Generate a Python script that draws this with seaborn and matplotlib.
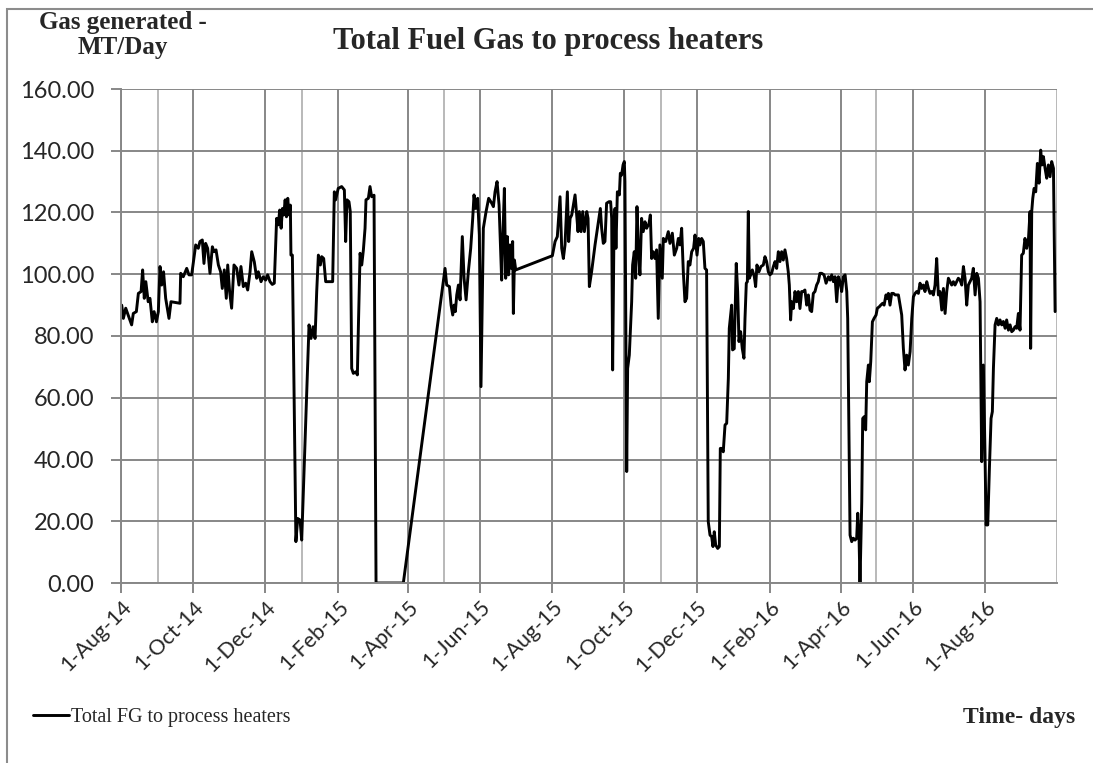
import pandas as pd
import matplotlib.pyplot as plt
import matplotlib.patches as patches
import seaborn as sns

# days counted from 1-Aug-14, split by period
day_a = [0.6, 2, 4, 6, 9, 10.4, 13, 14.7, 17, 18.3,
         19.7, 21, 23, 24.5, 26.5, 28, 30, 31.6, 33, 34.4,
         36, 37.8, 40.6, 42.3, 49.9, 50.5, 52.7, 55.6, 57.5, 59.8,
         63.2, 65.4, 66.8, 68.8, 70.2, 71.6, 73.3, 75.3, 77.3, 78.7,
         80.4, 82.4, 84.3, 85.7, 87.4, 89.1, 90.3, 91.9, 93.6, 95.6,
         97.9, 99.8, 101.5, 103.5, 105.5, 107.2, 109.2, 110.6, 112.8, 114.8,
         116.2, 118.5, 120.4, 122.4, 124.1, 126.1, 128, 129.7, 131.7, 133.1,
         134.3, 135.5, 136.6, 137.7, 138.9, 140, 141.1, 142.2, 143.3, 143.8,
         145, 148, 149.5, 151.5, 152.9, 159.1, 160.8, 162.5, 164.2,
         165.6, 167, 168.7, 169.8, 171.5, 173.2, 177.7, 179.1, 180.5, 181.6,
         183.8, 186.7, 189, 190.1, 191.2, 192.9, 194]
fg_a = [90, 85.7, 89, 86.8, 83.6, 87.3, 87.9, 93.8, 94.4, 101.4,
        92.2, 97.6, 91.1, 92.2, 84.6, 87.9, 84.6, 87.9, 102.5, 96.5,
        100.8, 92.2, 85.7, 91.1, 90.6, 100.3, 99.2, 101.9, 99.8, 99.8,
        109.5, 108.4, 110.6, 111.1, 103.5, 110, 108.4, 100.3, 108.9, 107.3,
        107.9, 103, 100.8, 95.4, 101.4, 92.2, 103, 94.4, 89, 103,
        101.9, 96.5, 102.5, 96, 97.1, 94.9, 100.8, 107.3, 104, 98.7,
        100.8, 97.6, 99.2, 98.1, 99.8, 97.6, 96.7, 97.1, 118.1, 116,
        120.8, 114.9, 121.3, 119.2, 124.1, 118.6, 124.6, 119.2, 122.4, 106.2,
        106.2, 13.4, 20.9, 20.4, 13.9, 83.6, 79.2, 83, 79.2,
        94.4, 106.2, 103, 105.7, 105.1, 97.6, 97.6, 97.6, 126.7, 124.1,
        127.8, 128.4, 127.3, 110.6, 124.1, 123.5, 120.3]

day_b = [195.2, 196.6, 198.6, 200, 200.9, 202.3, 203.7, 205.1, 206.5, 207.3,
         209.3, 210.7, 212.1, 214.1, 215.8, 238.9, 274.2, 275.6, 277.9, 279.3,
         280.7, 281.8, 282.9, 284.1, 285.5, 286.9, 288.8, 290.3, 292, 293.9,
         295.9, 297.6, 298.7, 300.1, 301.8, 303.2, 304.6, 306.6, 308.9, 311.1,
         313.7, 315.1, 316.5, 318.2, 319.9, 322.1, 323, 324.4, 325.5, 326.9,
         328, 329.2, 330.3, 331.4, 332, 332.9, 334, 365, 367.3, 369.2,
         371.5, 372.9, 374.3, 375.7, 377.7, 378.8, 380, 381.4, 382.8, 384.2,
         385.6, 386.7, 387.8, 389.3, 390.7, 392.1, 394.1, 395.2]
fg_b = [69.5, 67.9, 68.4, 67.4, 83.6, 106.8, 103, 107.9, 114.9, 124.1,
        124.6, 128.4, 125.1, 125.6, 0, 0, 101.9, 96.5, 96, 90,
        86.8, 90, 87.9, 93.3, 96.5, 91.7, 112.2, 98.7, 91.7, 100.8,
        108.4, 118.1, 125.7, 121.3, 124.6, 112.7, 63.6, 114.9, 120.3, 124.6,
        123, 121.9, 126.7, 130, 122.4, 98.1, 110.6, 127.8, 98.7, 112.2,
        99.8, 109.5, 101.9, 110.6, 87.3, 104.6, 101.4, 106, 110.6, 112.2,
        125.1, 108.4, 105.1, 109.5, 126.7, 110.6, 118.1, 119.2, 122.4, 125.7,
        119.2, 113.8, 120.3, 113.8, 120.3, 113.8, 120.3, 118.1]

day_c = [396.3, 398.2, 401.1, 403.9, 405.6, 406.7, 408.1, 409.5, 410.9, 412.9,
         414.3, 415.2, 416, 417.1, 418, 418.8, 420, 421.7, 422.5, 423.6,
         424.8, 425.9, 426.4, 427, 427.9, 428.7, 430.1, 432.1, 432.9, 434.3,
         435.5, 436.6, 437.7, 439.1, 440.5, 441.9, 443.4, 444.8, 446.8, 447.9,
         449, 450.4, 451.8, 453.2, 454.6, 456, 458, 458.9, 460.9, 463.1,
         464.5, 466.5, 468.2, 470.2, 471.6, 473, 474.4, 475.8, 477.2, 478.6,
         480, 481.4, 482.9, 484.5, 485.7, 487.4, 488.8, 489.9, 491.3, 492.7,
         494.1, 495.5, 496.9, 498.4, 499.8, 500.9, 502, 503.2, 504.9, 506.3,
         507.1, 508.2, 509.6, 511.1, 512.5, 513.9, 514.7, 515.9, 516.7, 517.5,
         518.9, 520.6, 521.8, 522.9, 524.3, 525.7, 527.1, 528, 529.1, 530,
         530.8, 531.7, 532.8, 534.2, 535.9, 537, 538.1, 539.8, 541.5, 543.5,
         544.9, 546.3, 547.7, 549.1, 550.5, 552, 553.4, 554.8, 556.2, 557.6,
         559, 560.4, 561.8, 563.2, 564.6, 565.5, 566.6, 567.5, 568.9, 570.3,
         571.7, 573.1, 574.5, 575.9, 577.3, 578.7, 580.2, 581.6, 583, 584.4,
         585.8, 587.2, 588.6, 590, 591.4]
fg_c = [96, 100.8, 109.5, 117, 121.3, 114.9, 110, 110.6, 123, 123.5,
        123.5, 118.1, 69, 112.7, 121.3, 108.4, 126.7, 125.7, 132.7, 132.1,
        135.4, 136.5, 130, 94.4, 36.1, 69.5, 73.8, 91.1, 103, 107.3,
        98.7, 121.9, 108.4, 99.8, 118.1, 113.8, 117, 114.9, 116.5, 119.2,
        105.1, 107.3, 105.1, 107.9, 85.7, 109.5, 98.7, 111.6, 110.6, 113.8,
        110, 113.3, 106.2, 108.4, 111.6, 109.5, 114.9, 100.8, 91.1, 92.2,
        104.1, 103, 107.3, 108.4, 112.7, 106.2, 111.6, 109.5, 111.6, 110.6,
        101.9, 101.4, 19.9, 15.5, 15, 11.8, 16.6, 12.3, 11.2, 11.8,
        43.6, 43.6, 42.5, 51.2, 51.7, 66.3, 82.5, 86.8, 90, 75.5,
        75.9, 103.5, 94.4, 78.2, 81.4, 75.9, 72.8, 85.7, 97.1, 97.6,
        120.3, 98.7, 99.8, 101.4, 99.2, 96, 103, 100.8, 102.5, 103,
        105.7, 104.1, 100.8, 99.8, 100.3, 102.5, 104.1, 101.9, 107.3, 104.1,
        107.3, 104.6, 107.9, 105.1, 100.8, 96.5, 85.2, 91.1, 88.9, 94.4,
        91.1, 94.4, 88.9, 94.4, 94.4, 94.9, 90, 93.3, 88.4, 87.9,
        93.8, 94.4, 96.5, 97.6, 100.3]

day_d = [592.9, 594.9, 596.6, 598.6, 600, 601.4, 602.8, 604.2, 605.6, 607,
         608.4, 609.8, 611.2, 612.7, 614.1, 614.9, 616.9, 618.3, 619.7, 621.1,
         622.5, 623.4, 624.5, 625.3, 626.8, 627.6, 629, 630.1, 631, 632.4,
         633.2, 634.4, 635.8, 637.2, 638.9, 640, 641.7, 642.8, 644.5, 645.7,
         647.3, 648.5, 649.3, 650.7, 652.1, 653.6, 655, 656.4, 657.8, 659.2,
         660.6, 662, 663.4, 664.8, 666.2, 667.7, 669.1, 670.5, 671.9, 673.3,
         674.7, 676.1, 677.5, 678.9, 680.3, 681.8, 683.2, 684.6, 686, 687.4,
         688.8, 690.2, 691.6, 693, 694.5, 695.9, 697.3, 698.7, 700.1, 701.5,
         702.9, 704.3, 705.7, 707.1, 708.5, 710, 711.4, 712.8, 714.2, 715.6,
         717, 718.4, 719.8, 721.2, 722.7, 724.1, 725.5, 726.9, 728.3, 729.7,
         731.1, 732, 733.4, 734.8, 736.2, 737.3, 738.2, 739.6, 741, 742.4,
         743.8, 745.2, 746.6, 748.1, 749.4, 750.9, 752.3, 753.7, 755.1, 756.5,
         757.9, 759.3, 760.7, 762.1, 763.5, 764.9, 766.4, 767.8, 769.2, 769.7,
         770.6, 771.5, 772.6, 774, 775.4, 776.8, 778.2, 779.3, 780.5, 781.9,
         783.3, 784.7, 786.1, 787.5, 789, 790.4]
fg_d = [100.3, 99.8, 97.1, 99.2, 98.1, 99.8, 97.6, 99.2, 91.1, 99.2,
        97.6, 94.4, 99.2, 99.8, 94.4, 85.7, 15.5, 13.4, 14.5, 13.9,
        14.5, 22.6, 14.5, 0, 26.3, 53.3, 53.9, 49.6, 65.2, 70.6,
        65.2, 71.7, 84.6, 85.7, 86.8, 89, 89.5, 90, 90.6, 90,
        93.3, 92.2, 93.8, 90, 93.8, 93.8, 93.3, 93.3, 93.3, 90,
        86.8, 76, 69, 73.8, 70.6, 74.9, 85.7, 92.7, 93.8, 94.4,
        93.8, 97.1, 95.4, 96.5, 94.4, 97.6, 95.4, 93.8, 94.4, 93.3,
        96.5, 105.1, 93.3, 94.4, 88.4, 95.4, 87.3, 94.4, 98.7, 97.6,
        96.5, 97.6, 96.5, 97.6, 98.7, 98.1, 96.5, 102.5, 98.7, 90,
        96.5, 97.6, 98.7, 101.9, 93.3, 100.3, 98.7, 91.1, 39.3, 70.6,
        41.5, 18.8, 18.8, 37.1, 53.3, 55.5, 69.5, 83.6, 85.7, 83.6,
        85.2, 83.6, 84.7, 82.5, 85.2, 81.9, 83.6, 81.4, 81.9, 83,
        82.5, 87.3, 81.9, 106.2, 106.8, 111.6, 108.4, 111.1, 120.3, 76,
        120.3, 124.6, 127.8, 126.7, 135.9, 129.5, 140.2, 135.4, 138.1, 134.3,
        131.1, 135.4, 131.6, 136.5, 134.3, 87.9]

tick_labels = ["1-Aug-14", "1-Oct-14", "1-Dec-14", "1-Feb-15", "1-Apr-15", "1-Jun-15",
               "1-Aug-15", "1-Oct-15", "1-Dec-15", "1-Feb-16", "1-Apr-16", "1-Jun-16",
               "1-Aug-16"]
light_grid = ["2014-09-01", "2015-01-01", "2015-05-01", "2015-11-01", "2016-05-01", "2016-10-01"]
y_ticks = [0, 20, 40, 60, 80, 100, 120, 140, 160]

days = day_a + day_b + day_c + day_d
fg = fg_a + fg_b + fg_c + fg_d
df = pd.DataFrame({"date": pd.Timestamp("2014-08-01") + pd.to_timedelta(days, unit="D"),
                   "fg": fg})

sns.set_style("white")
plt.rcParams["font.family"] = ["Lato", "DejaVu Sans"]
serif = ["Liberation Serif", "DejaVu Serif"]
grid_c = "#878787"

fig, ax = plt.subplots(figsize=(10.93, 7.63), dpi=100)
fig.subplots_adjust(left=121/1093, right=1057/1093, top=1-89/763, bottom=1-583/763)

for d in light_grid:
    ax.axvline(pd.Timestamp(d), color="#b9b9b9", lw=1.4, zorder=0)

sns.lineplot(data=df, x="date", y="fg", ax=ax, color="black", lw=2.1,
             estimator=None, sort=False, label="Total FG to process heaters")

ax.set_xlim(pd.Timestamp("2014-08-01"), pd.Timestamp("2016-10-01"))
ax.set_ylim(0, 160)
ax.set_yticks(y_ticks)
ax.set_yticklabels([f"{v:.2f}" for v in y_ticks], fontsize=17)
ax.set_xticks(pd.to_datetime(tick_labels, format="%d-%b-%y"))
ax.set_xticklabels(tick_labels, rotation=45, ha="right", rotation_mode="anchor", fontsize=15.5)
ax.set_xlabel("")
ax.set_ylabel("")

ax.set_axisbelow(True)
ax.grid(True, color=grid_c, lw=1.4)
for s in ["top", "right"]:
    ax.spines[s].set_visible(False)
for s in ["left", "bottom"]:
    ax.spines[s].set_color(grid_c)
    ax.spines[s].set_linewidth(1.4)
ax.tick_params(axis="both", direction="out", length=7, width=1.4, color=grid_c, left=True, bottom=True)
ax.tick_params(axis="x", pad=3)
ax.tick_params(axis="y", pad=12)

fig.text(548/1093, 1-42/763, "Total Fuel Gas to process heaters", ha="center", va="center",
         fontsize=22, fontweight="bold", family=serif)
fig.text(123/1093, 1-35/763, "Gas generated -\nMT/Day", ha="center", va="center",
         fontsize=18, fontweight="bold", family=serif, linespacing=1.15)
fig.text(1075/1093, 1-717/763, "Time- days", ha="right", va="center",
         fontsize=17, fontweight="bold", family=serif)

ax.legend(loc="center left", bbox_to_anchor=(33/1093, 1-717/763), bbox_transform=fig.transFigure,
          frameon=False, prop={"family": serif, "size": 14.5}, handlelength=1.8,
          handletextpad=0.1, borderpad=0, borderaxespad=0)

fig.add_artist(patches.Rectangle((7/1093, -0.1), 1.2, 1.1 - 9/763, transform=fig.transFigure,
                                 fill=False, edgecolor="#8c8c8c", lw=1.5))

fig.savefig("out.png", dpi=100)
